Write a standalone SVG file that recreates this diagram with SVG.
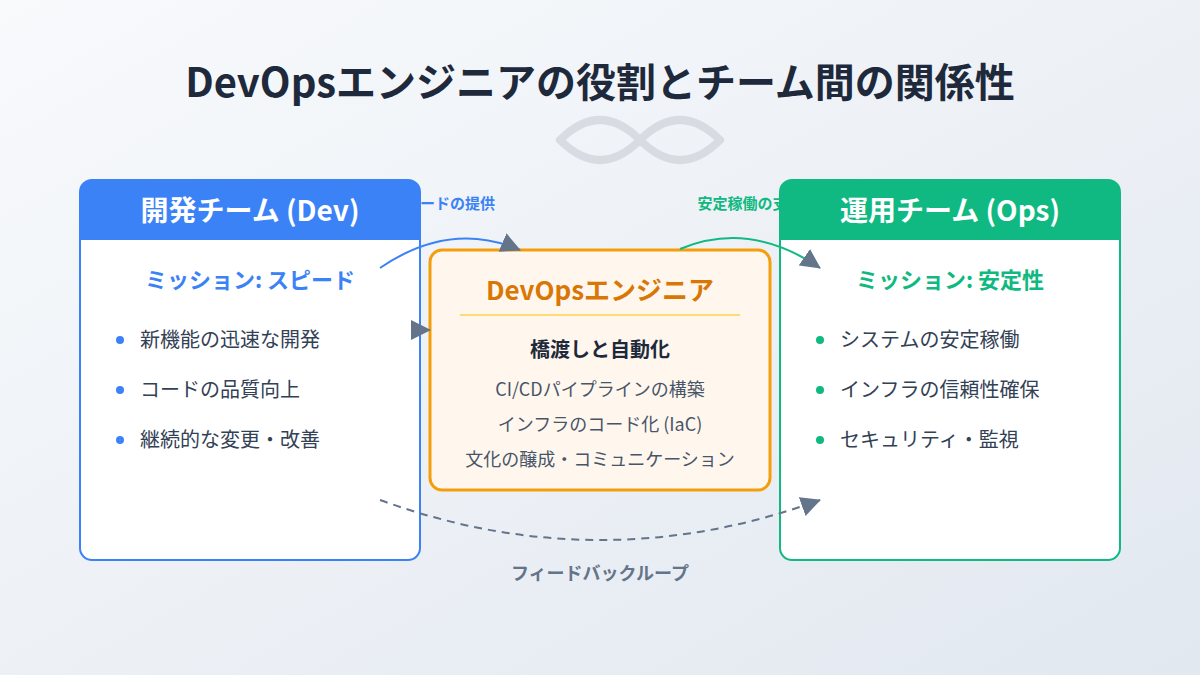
<svg xmlns="http://www.w3.org/2000/svg" width="1200" height="675" viewBox="0 0 1200 675">
<defs>
<linearGradient id="bg" x1="0" y1="0" x2="1" y2="1">
<stop offset="0" stop-color="#f8fafc"/>
<stop offset="1" stop-color="#e2e8f0"/>
</linearGradient>
<marker id="ahb" viewBox="0 0 20 20" refX="19" refY="10" markerWidth="20" markerHeight="20" markerUnits="userSpaceOnUse" orient="auto">
<path d="M0,0 L20,10 L0,20 Z" fill="#64748b"/>
</marker>
</defs>
<style>
text{font-family:"Noto Sans CJK JP","Noto Sans",sans-serif}
.title{font-size:40px;font-weight:700;fill:#1e293b}
.hdr{font-size:28px;font-weight:700;fill:#ffffff}
.mis{font-size:22px;font-weight:700}
.item{font-size:20px;fill:#334155}
.citem{font-size:18px;fill:#475569}
.lbl{font-size:15px;font-weight:700}
.conn{fill:none;stroke-width:2}
</style>
<rect width="1200" height="675" fill="url(#bg)"/>
<text class="title" x="600" y="97" text-anchor="middle">DevOpsエンジニアの役割とチーム間の関係性</text>
<g id="infinity" fill="none" stroke="#d1d5db" stroke-width="8" stroke-linecap="round" opacity="0.75">
<path d="M560,140 Q600,100 640,140 Q680,180 720,140"/>
<path d="M560,140 Q600,180 640,140 Q680,100 720,140"/>
</g>
<g id="labels">
<text class="lbl" x="450" y="209" text-anchor="middle" fill="#3b82f6">コードの提供</text>
<text class="lbl" x="750" y="209" text-anchor="middle" fill="#10b981">安定稼働の支援</text>
</g>
<g id="dev">
<rect x="80" y="180" width="340" height="380" rx="12" fill="#ffffff" stroke="#3b82f6" stroke-width="2"/>
<path d="M80,240 V192 A12,12 0 0 1 92,180 H408 A12,12 0 0 1 420,192 V240 Z" fill="#3b82f6"/>
<text class="hdr" x="250" y="221" text-anchor="middle">開発チーム (Dev)</text>
<text class="mis" x="250" y="288" text-anchor="middle" fill="#3b82f6">ミッション: スピード</text>
<circle cx="120" cy="340" r="4" fill="#3b82f6"/>
<circle cx="120" cy="390" r="4" fill="#3b82f6"/>
<circle cx="120" cy="440" r="4" fill="#3b82f6"/>
<text class="item" x="140" y="347">新機能の迅速な開発</text>
<text class="item" x="140" y="397">コードの品質向上</text>
<text class="item" x="140" y="447">継続的な変更・改善</text>
</g>
<g id="ops">
<rect x="780" y="180" width="340" height="380" rx="12" fill="#ffffff" stroke="#10b981" stroke-width="2"/>
<path d="M780,240 V192 A12,12 0 0 1 792,180 H1108 A12,12 0 0 1 1120,192 V240 Z" fill="#10b981"/>
<text class="hdr" x="950" y="221" text-anchor="middle">運用チーム (Ops)</text>
<text class="mis" x="950" y="288" text-anchor="middle" fill="#10b981">ミッション: 安定性</text>
<circle cx="820" cy="340" r="4" fill="#10b981"/>
<circle cx="820" cy="390" r="4" fill="#10b981"/>
<circle cx="820" cy="440" r="4" fill="#10b981"/>
<text class="item" x="840" y="347">システムの安定稼働</text>
<text class="item" x="840" y="397">インフラの信頼性確保</text>
<text class="item" x="840" y="447">セキュリティ・監視</text>
</g>
<g id="engineer">
<rect x="430" y="250" width="340" height="240" rx="12" fill="#fff7ed" stroke="#f59e0b" stroke-width="3"/>
<text x="600" y="300" text-anchor="middle" font-size="26" font-weight="700" fill="#d97706">DevOpsエンジニア</text>
<line x1="460" y1="315" x2="740" y2="315" stroke="#fcd34d" stroke-width="1.5"/>
<text x="600" y="357" text-anchor="middle" font-size="20" font-weight="700" fill="#1e293b">橋渡しと自動化</text>
<text class="citem" x="600" y="396" text-anchor="middle">CI/CDパイプラインの構築</text>
<text class="citem" x="600" y="431" text-anchor="middle">インフラのコード化 (IaC)</text>
<text class="citem" x="600" y="466" text-anchor="middle">文化の醸成・コミュニケーション</text>
</g>
<g id="connectors">
<path class="conn" d="M380,268 Q450,220 520,250" stroke="#3b82f6" marker-end="url(#ahb)"/>
<path class="conn" d="M680,249 Q750,220 820,268" stroke="#10b981" marker-end="url(#ahb)"/>
<path class="conn" d="M412,330 L430,330" stroke="#64748b" marker-end="url(#ahb)"/>
<path class="conn" d="M380,500 Q600,580 820,500" stroke="#64748b" stroke-dasharray="8,6" marker-end="url(#ahb)"/>
</g>
<text x="600" y="580" text-anchor="middle" font-size="18" font-weight="700" fill="#64748b">フィードバックループ</text>
</svg>
